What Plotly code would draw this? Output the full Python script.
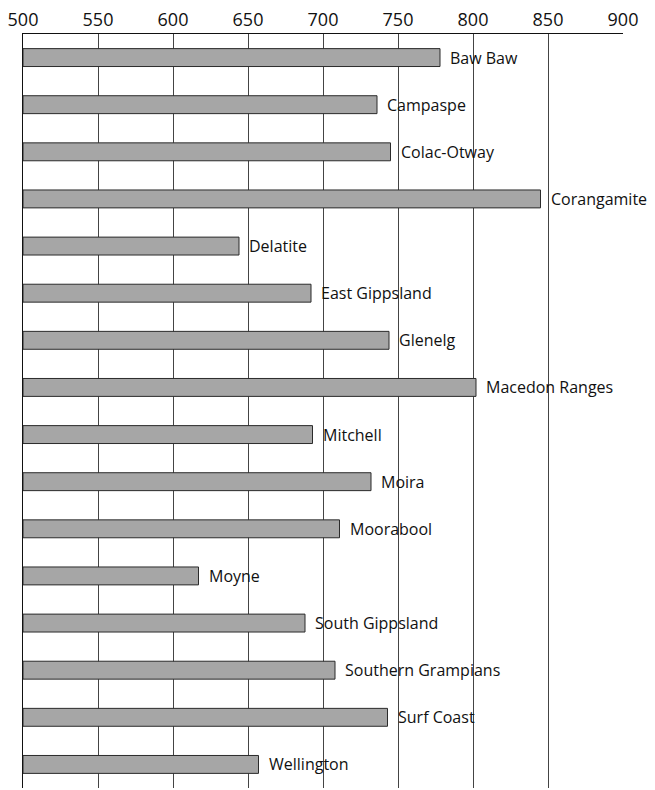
import plotly.graph_objects as go

# Shire names (top to bottom) and their values
shires = [
    "Baw Baw", "Campaspe", "Colac-Otway", "Corangamite", "Delatite",
    "East Gippsland", "Glenelg", "Macedon Ranges", "Mitchell", "Moira",
    "Moorabool", "Moyne", "South Gippsland", "Southern Grampians",
    "Surf Coast", "Wellington",
]
values = [778, 736, 745, 845, 644, 692, 744, 802, 693, 732, 711, 617, 688, 708, 743, 657]

x_ticks = [500, 550, 600, 650, 700, 750, 800, 850, 900]

FONT = "Open Sans"

fig = go.Figure(
    go.Bar(
        x=[v - 500 for v in values],
        base=500,
        y=shires,
        orientation="h",
        marker=dict(color="#a6a6a6", line=dict(color="#2b2b2b", width=1)),
        hoverinfo="skip",
    )
)

# Shire names just past the end of each bar
for name, v in zip(shires, values):
    fig.add_annotation(
        x=v, y=name, xref="x", yref="y",
        text=name, showarrow=False,
        xanchor="left", yanchor="middle", xshift=8,
        font=dict(family=FONT, size=16, color="#111111"),
    )

fig.update_layout(
    width=655, height=790,
    margin=dict(l=23, r=32, t=34, b=2),
    paper_bgcolor="white", plot_bgcolor="white",
    bargap=0.62,
    showlegend=False,
    xaxis=dict(
        range=[500, 900], side="top",
        tickvals=x_ticks, ticktext=[str(t) for t in x_ticks],
        tickfont=dict(family=FONT, size=18, color="#111111"),
        showgrid=True, gridcolor="#444444", gridwidth=1,
        showline=True, linecolor="#111111", linewidth=1,
        zeroline=False, ticks="", ticklen=0,
    ),
    yaxis=dict(
        autorange="reversed", showticklabels=False, ticks="",
        showgrid=False, zeroline=False,
        showline=True, linecolor="#111111", linewidth=1,
    ),
)

fig.write_html("out.html")
